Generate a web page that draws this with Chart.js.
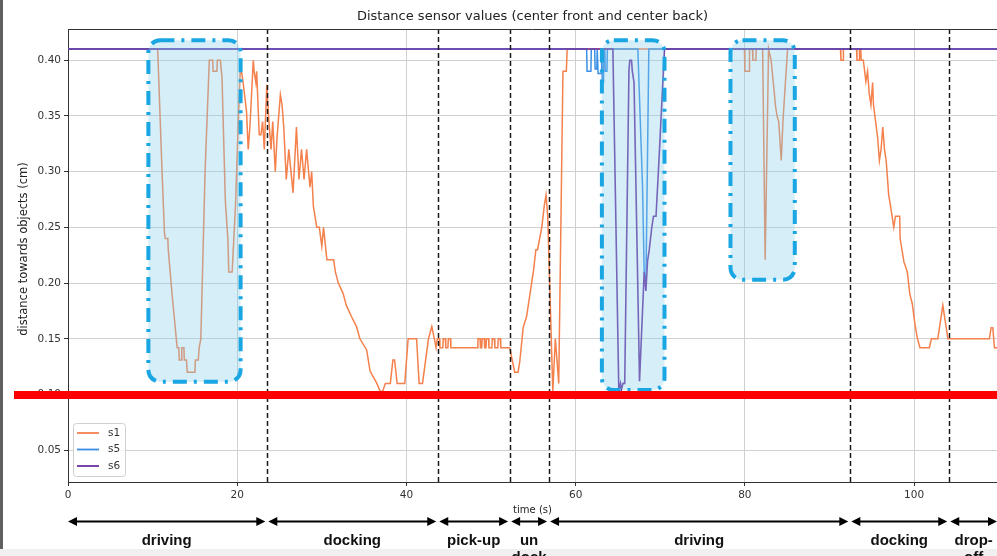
<!DOCTYPE html>
<html><head><meta charset="utf-8">
<script src="https://cdn.jsdelivr.net/npm/chart.js@4.4.1/dist/chart.umd.min.js"></script>
<style>html,body{margin:0;padding:0;background:#fff;overflow:hidden}canvas{display:block}</style>
</head><body>
<canvas id="c" width="997" height="556"></canvas>
<script>
// ---- data ----
const chartTitle = 'Distance sensor values (center front and center back)';
const xTitle = 'time (s)';
const yTitle = 'distance towards objects (cm)';
const xTicks = [0, 20, 40, 60, 80, 100];
const yTicks = [0.05, 0.10, 0.15, 0.20, 0.25, 0.30, 0.35, 0.40];
const xRange = [0, 109.8];
const yRange = [0.0215, 0.428];
const seriesNames = ['s1', 's5', 's6'];

const s1Samples = [[0,0.41],[10.6,0.41],[11.1,0.303],[11.4,0.245],[11.5,0.24],[11.8,0.24],[11.85,0.23],[12.3,0.19],[12.9,0.142],[13.1,0.142],[13.15,0.131],[13.4,0.131],[13.45,0.142],[13.7,0.142],[13.75,0.131],[14.0,0.131],[14.1,0.12],[15.0,0.12],[15.05,0.131],[15.4,0.131],[15.5,0.142],[15.7,0.15],[16.2,0.30],[16.7,0.40],[17.1,0.40],[17.15,0.39],[17.6,0.39],[17.65,0.40],[18.0,0.40],[18.2,0.385],[18.6,0.273],[18.9,0.239],[19.0,0.21],[19.4,0.21],[19.8,0.27],[20.15,0.35],[20.4,0.40],
[20.5,0.39],[20.7,0.38],[21.1,0.354],[21.3,0.32],[21.5,0.34],[21.9,0.40],[22.0,0.39],[22.2,0.38],[22.3,0.39],[22.6,0.333],[22.8,0.333],[23.0,0.345],[23.2,0.32],[23.5,0.378],[23.7,0.35],[24.0,0.32],[24.2,0.345],[24.5,0.30],[24.7,0.33],[25.1,0.369],[25.3,0.36],[25.5,0.34],[25.8,0.293],[26.1,0.32],[26.6,0.281],[27.0,0.34],[27.3,0.293],[27.6,0.32],[27.9,0.293],[28.2,0.32],[28.6,0.286],[28.8,0.30],[29.0,0.269],[29.4,0.25],[29.7,0.25],[30.0,0.233],[30.2,0.25],[30.6,0.221],[31.4,0.221],[31.6,0.21],[31.95,0.20],[32.5,0.191],[32.9,0.18],[33.5,0.17],[34.1,0.161],[34.5,0.15],[35.3,0.14],[35.7,0.121],[36.5,0.11],[36.9,0.103],[37.2,0.103],[37.5,0.11],[38.1,0.11],[38.4,0.131],[38.6,0.131],[38.9,0.11],[39.8,0.11],[40.2,0.15],[41.2,0.15],[41.5,0.11],[41.9,0.11],[42.6,0.15],[43.0,0.161],[43.3,0.15],[43.5,0.142],
[43.6,0.142],[43.65,0.15],[43.9,0.15],[43.95,0.142],[44.3,0.142],[44.35,0.15],[44.6,0.15],[44.65,0.142],[44.9,0.142],[44.95,0.15],[45.2,0.15],[45.25,0.142],[48.4,0.142],[48.45,0.15],[48.7,0.15],[48.75,0.142],[48.9,0.142],[48.95,0.15],[49.2,0.15],[49.25,0.142],[49.4,0.142],[49.45,0.15],[49.7,0.15],[49.75,0.142],[50.1,0.142],[50.15,0.15],[50.4,0.15],[50.45,0.142],[50.8,0.142],[50.85,0.15],[51.1,0.15],[51.15,0.142],[52.2,0.142],[52.5,0.131],[52.8,0.12],[53.2,0.12],[53.4,0.13],[53.8,0.16],[54.2,0.17],[54.6,0.19],[55.0,0.21],[55.3,0.23],[55.5,0.23],[55.75,0.24],[56.0,0.25],[56.3,0.27],[56.5,0.279],[56.7,0.26],[57.3,0.103],[57.6,0.15],[58.0,0.11],[58.5,0.39],[58.9,0.39],[59.0,0.41],
[79.95,0.41],[80.0,0.39],[80.5,0.39],[80.55,0.41],[80.9,0.41],[80.95,0.40],[81.3,0.40],[81.35,0.41],[82.1,0.41],[82.4,0.221],[82.8,0.41],[83.1,0.40],[83.5,0.369],[83.6,0.36],[83.8,0.35],[84.0,0.345],[84.3,0.31],[84.5,0.345],[84.7,0.369],[85.05,0.41],
[91.3,0.41],[91.35,0.40],[91.6,0.40],[91.65,0.41],[93.2,0.41],[93.25,0.40],[93.5,0.40],[93.55,0.41],[93.7,0.41],[93.75,0.40],[94.0,0.40],[94.3,0.381],[94.5,0.39],[94.7,0.37],[94.9,0.36],[95.1,0.38],[95.2,0.36],[95.5,0.342],[95.7,0.33],[95.9,0.31],[96.1,0.32],[96.3,0.34],[96.5,0.32],[96.7,0.31],[97.0,0.279],[97.2,0.27],[97.4,0.26],[97.6,0.25],[97.8,0.26],[98.3,0.26],[98.35,0.24],[98.8,0.219],[99.2,0.21],[99.5,0.19],[99.8,0.181],[100.1,0.163],[100.4,0.15],[100.7,0.142],[101.8,0.142],[102.05,0.15],[102.8,0.15],[103.2,0.17],[103.4,0.18],[103.6,0.17],[103.8,0.16],[104.0,0.15],[108.9,0.15],[109.1,0.16],[109.3,0.16],[109.5,0.142],[109.8,0.142]];

const s5Samples = [[0,0.41],[61.3,0.41],[61.35,0.39],[61.8,0.39],[61.85,0.41],[62.25,0.41],[62.3,0.392],[62.5,0.392],[62.55,0.41],[62.6,0.41],[62.65,0.388],[63.0,0.388],[63.05,0.41],[63.1,0.41],[63.15,0.38],[63.25,0.38],[63.3,0.41],[63.45,0.41],[63.5,0.39],[63.7,0.39],[63.75,0.41],[67.35,0.41],[67.9,0.288],[68.1,0.21],[68.3,0.195],[68.65,0.41],[109.8,0.41]];

const s6Samples = [[0,0.41],[64.4,0.41],[65.1,0.104],[65.3,0.11],[65.4,0.104],[65.6,0.11],[65.8,0.11],[66.3,0.391],[66.4,0.40],[66.6,0.40],[66.7,0.39],[66.9,0.38],[67.55,0.112],[68.1,0.21],[68.3,0.193],[68.5,0.22],[68.7,0.23],[69.0,0.25],[69.2,0.26],[69.5,0.26],[69.9,0.318],[70.5,0.41],[109.8,0.41]];

// phase boundaries (s) and labels
const phaseBounds = [0, 23.5, 43.7, 52.2, 56.8, 92.4, 104.1, 109.8];
const phaseLabels = ['driving', 'docking', 'pick-up', 'un\ndock', 'driving', 'docking', 'drop-\noff'];
// highlighted regions: [xStart, xEnd, yLow, yHigh]
const highlightRegions = [[9.5, 20.4, 0.1115, 0.418], [63.1, 70.5, 0.104, 0.418], [78.3, 85.9, 0.203, 0.418]];
const thresholdValue = 0.10;

// ---- styles ----
const colors = {s1: '#f4804c', s5: '#3a8fe6', s6: '#6e2fa0'};
const FONT = 'DejaVu Sans, sans-serif';

const toXY = arr => arr.map(p => ({x: p[0], y: p[1]}));

function roundRect(ctx, x, y, w, h, r) {
  ctx.beginPath();
  ctx.moveTo(x + r, y);
  ctx.lineTo(x + w - r, y); ctx.arcTo(x + w, y, x + w, y + r, r);
  ctx.lineTo(x + w, y + h - r); ctx.arcTo(x + w, y + h, x + w - r, y + h, r);
  ctx.lineTo(x + r, y + h); ctx.arcTo(x, y + h, x, y + h - r, r);
  ctx.lineTo(x, y + r); ctx.arcTo(x, y, x + r, y, r);
  ctx.closePath();
}

function arrowHead(ctx, x, y, dir) {
  ctx.beginPath();
  ctx.moveTo(x, y);
  ctx.lineTo(x - dir * 9, y - 4.5);
  ctx.lineTo(x - dir * 9, y + 4.5);
  ctx.closePath();
  ctx.fill();
}

const decor = {
  id: 'decor',
  beforeDraw(chart) {
    const ctx = chart.ctx;
    ctx.save();
    ctx.fillStyle = '#ffffff';
    ctx.fillRect(0, 0, chart.width, chart.height);
    ctx.fillStyle = '#f0f0f0';
    ctx.fillRect(0, 549, chart.width, 7);
    ctx.fillStyle = '#5f5f5f';
    ctx.fillRect(0, 0, 3, 549);
    ctx.restore();
  },
  afterDatasetsDraw(chart) {
    const ctx = chart.ctx, xs = chart.scales.x, ys = chart.scales.y, area = chart.chartArea;
    ctx.save();
    // highlight regions
    highlightRegions.forEach(r => {
      const x0 = xs.getPixelForValue(r[0]), x1 = xs.getPixelForValue(r[1]);
      const y0 = ys.getPixelForValue(r[3]), y1 = ys.getPixelForValue(r[2]);
      roundRect(ctx, x0, y0, x1 - x0, y1 - y0, 12);
      ctx.fillStyle = 'rgba(135,206,235,0.35)';
      ctx.fill();
      ctx.setLineDash([14, 7, 3, 7]);
      ctx.lineWidth = 4;
      ctx.strokeStyle = '#19a6e2';
      ctx.stroke();
    });
    // phase boundaries
    ctx.setLineDash([5, 3]);
    ctx.lineWidth = 1.5;
    ctx.strokeStyle = '#1a1a1a';
    phaseBounds.slice(1, -1).forEach(b => {
      const x = Math.round(xs.getPixelForValue(b)) + 0.5;
      ctx.beginPath(); ctx.moveTo(x, area.top); ctx.lineTo(x, area.bottom); ctx.stroke();
    });
    ctx.setLineDash([]);
    // threshold
    const ty = ys.getPixelForValue(thresholdValue) + 0.5;
    ctx.strokeStyle = '#ff0000';
    ctx.lineWidth = 8;
    ctx.beginPath(); ctx.moveTo(14, ty); ctx.lineTo(area.right, ty); ctx.stroke();
    // top spine
    ctx.strokeStyle = '#333';
    ctx.lineWidth = 1;
    ctx.beginPath(); ctx.moveTo(area.left, area.top + 0.5); ctx.lineTo(area.right, area.top + 0.5); ctx.stroke();
    // legend
    roundRect(ctx, 73.5, 423.5, 52, 53, 3);
    ctx.fillStyle = 'rgba(255,255,255,0.85)';
    ctx.fill();
    ctx.strokeStyle = '#d0d0d0';
    ctx.lineWidth = 1;
    ctx.stroke();
    ctx.font = '10.5px ' + FONT;
    ctx.textBaseline = 'middle';
    ctx.textAlign = 'left';
    chart.data.datasets.forEach((ds, i) => {
      const y = 433 + i * 16.5;
      ctx.strokeStyle = ds.borderColor;
      ctx.lineWidth = 1.8;
      ctx.beginPath(); ctx.moveTo(77, y); ctx.lineTo(99, y); ctx.stroke();
      ctx.fillStyle = '#333';
      ctx.fillText(ds.label, 108, y);
    });
    ctx.restore();
  },
  afterDraw(chart) {
    const ctx = chart.ctx, xs = chart.scales.x, area = chart.chartArea;
    ctx.save();
    const cx = (area.left + area.right) / 2;
    ctx.fillStyle = '#222';
    ctx.textAlign = 'center';
    ctx.textBaseline = 'middle';
    ctx.font = '13px ' + FONT;
    ctx.fillText(chartTitle, cx, 17);
    ctx.font = '10px ' + FONT;
    ctx.fillText(xTitle, cx, 510);
    ctx.save();
    ctx.translate(24, 249);
    ctx.rotate(-Math.PI / 2);
    ctx.font = '11.5px ' + FONT;
    ctx.fillText(yTitle, 0, 0);
    ctx.restore();
    // phase arrows
    ctx.strokeStyle = '#000';
    ctx.fillStyle = '#000';
    ctx.lineWidth = 2;
    const ay = 521.5;
    for (let i = 0; i < phaseLabels.length; i++) {
      let x0 = xs.getPixelForValue(phaseBounds[i]);
      let x1 = xs.getPixelForValue(phaseBounds[i + 1]);
      if (i > 0) x0 += 1.5;
      if (i < phaseLabels.length - 1) x1 -= 1.5;
      ctx.beginPath(); ctx.moveTo(x0 + 4, ay); ctx.lineTo(x1 - 4, ay); ctx.stroke();
      arrowHead(ctx, x0, ay, -1);
      arrowHead(ctx, x1, ay, 1);
      ctx.font = 'bold 15px "Liberation Sans", Arial, sans-serif';
      ctx.textBaseline = 'alphabetic';
      ctx.fillStyle = '#111';
      phaseLabels[i].split('\n').forEach((line, k) => {
        ctx.fillText(line, (x0 + x1) / 2, 545 + k * 17);
      });
      ctx.fillStyle = '#000';
    }
    ctx.restore();
  }
};

new Chart(document.getElementById('c'), {
  type: 'line',
  data: {
    datasets: [
      {label: seriesNames[0], data: toXY(s1Samples), borderColor: colors.s1, borderWidth: 1.5, order: 3},
      {label: seriesNames[1], data: toXY(s5Samples), borderColor: colors.s5, borderWidth: 1.5, order: 2},
      {label: seriesNames[2], data: toXY(s6Samples), borderColor: colors.s6, borderWidth: 1.6, order: 1}
    ]
  },
  options: {
    responsive: false,
    animation: false,
    devicePixelRatio: 1,
    parsing: false,
    elements: {point: {radius: 0}, line: {tension: 0, fill: false}},
    layout: {padding: {top: 29, left: 0, right: 0, bottom: 0}},
    plugins: {legend: {display: false}, title: {display: false}, tooltip: {enabled: false}},
    scales: {
      x: {
        type: 'linear', min: xRange[0], max: xRange[1],
        afterFit: s => { s.height = 74; },
        afterBuildTicks: s => { s.ticks = xTicks.map(v => ({value: v})); },
        grid: {color: '#d0d0d0', lineWidth: 1, tickColor: '#333', tickLength: 4},
        border: {display: true, color: '#333', width: 1},
        ticks: {font: {family: FONT, size: 10.5}, color: '#333', padding: 3, maxRotation: 0, callback: v => String(v)}
      },
      y: {
        type: 'linear', min: yRange[0], max: yRange[1],
        afterFit: s => { s.width = 68; },
        afterBuildTicks: s => { s.ticks = yTicks.map(v => ({value: v})); },
        grid: {color: '#d0d0d0', lineWidth: 1, tickColor: '#333', tickLength: 4},
        border: {display: true, color: '#333', width: 1},
        ticks: {font: {family: FONT, size: 10.5}, color: '#333', padding: 3, callback: v => v.toFixed(2)}
      }
    }
  },
  plugins: [decor]
});
</script>
</body></html>
